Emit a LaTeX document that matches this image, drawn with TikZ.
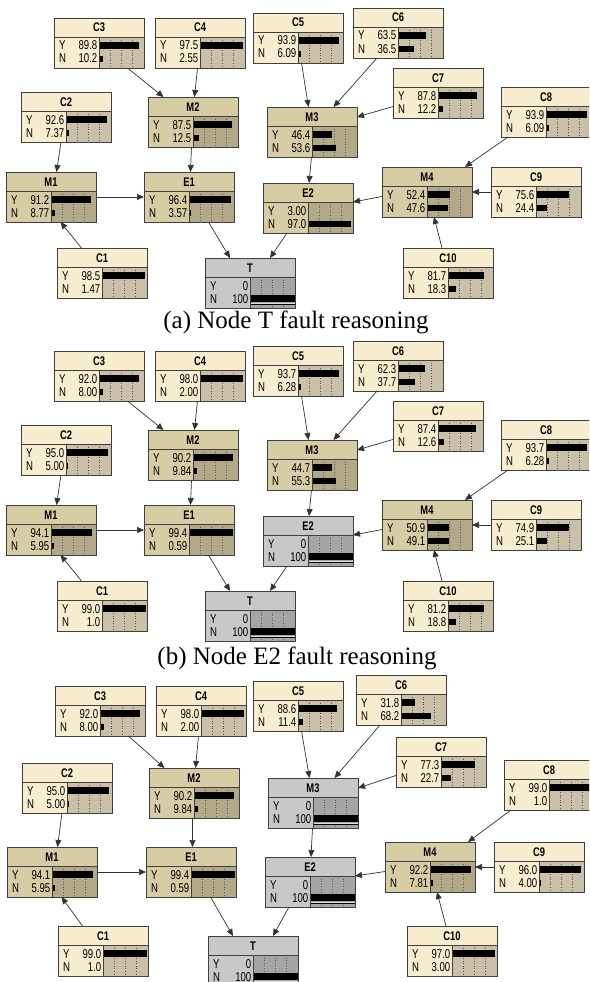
\documentclass[tikz,border=0pt]{standalone}
\usepackage{fontspec}
\setmainfont{Liberation Serif}
\newfontfamily\nfont[FakeStretch=0.75]{Liberation Sans}
\usetikzlibrary{arrows.meta}
\definecolor{ct}{HTML}{F8EDCE}
\definecolor{cb}{HTML}{C9C0A7}
\definecolor{mt}{HTML}{D6CDA5}
\definecolor{mb}{HTML}{B1A988}
\definecolor{gt}{HTML}{C8C8C8}
\definecolor{gb}{HTML}{A5A5A5}
\tikzset{
  nbox/.style={rectangle,minimum width=90pt,minimum height=50pt,inner sep=0pt,outer sep=0pt,anchor=north west},
  gridln/.style={black!65,dotted,line width=0.6pt},
  frame/.style={black!75,line width=0.8pt},
  sepln/.style={black!75,line width=0.7pt},
  ttl/.style={font=\nfont\bfseries\fontsize{12.5}{13}\selectfont,inner sep=0pt,anchor=base},
  lbl/.style={font=\nfont\fontsize{12.8}{13}\selectfont,inner sep=0pt,text=black},
  arr/.style={black!80,line width=0.7pt,-{Triangle[length=7pt,width=6pt]}},
  captext/.style={font=\fontsize{25}{28}\selectfont,inner sep=0pt}
}
% id, x, y, title, yval, nval, colour prefix
\newcommand\bnnode[7]{%
  \node[nbox] (#1) at (#2,#3) {};
  \fill[#7t] (#2,#3) rectangle ({#2+90},{#3+50});
  \fill[#7b] ({#2+45},{#3+19}) rectangle ({#2+90},{#3+50});
  \foreach \k in {11,22,33} \draw[gridln] ({#2+45+\k},{#3+19}) -- ({#2+45+\k},{#3+50});
  \fill ({#2+45},{#3+24.3}) rectangle ({#2+45+0.44*#5},{#3+31});
  \fill ({#2+45},{#3+37.7}) rectangle ({#2+45+0.44*#6},{#3+44.4});
  \draw[sepln] (#2,{#3+19}) -- ({#2+90},{#3+19});
  \draw[sepln] ({#2+45},{#3+19}) -- ({#2+45},{#3+50});
  \draw[frame] (#2,#3) rectangle ({#2+90},{#3+50});
  \node[ttl] at ({#2+45},{#3+14}) {#4};
  \node[lbl,anchor=base west] at ({#2+5},{#3+32}) {Y};
  \node[lbl,anchor=base east] at ({#2+43.5},{#3+32}) {#5};
  \node[lbl,anchor=base west] at ({#2+5},{#3+45}) {N};
  \node[lbl,anchor=base east] at ({#2+43.5},{#3+45}) {#6};
}
% evidence node: id, x, y, title
\newcommand\evnode[4]{%
  \node[nbox] (#1) at (#2,#3) {};
  \fill[gt] (#2,#3) rectangle ({#2+90},{#3+50});
  \fill[gb] ({#2+45},{#3+19}) rectangle ({#2+90},{#3+50});
  \foreach \k in {11,22,33} \draw[gridln] ({#2+45+\k},{#3+19}) -- ({#2+45+\k},{#3+50});
  \fill ({#2+45},{#3+37}) rectangle ({#2+90},{#3+44});
  \draw[gray!25,line width=1pt] ({#2+45},{#3+45.3}) -- ({#2+90},{#3+45.3});
  \draw[black,line width=1.2pt] ({#2+45},{#3+46.8}) -- ({#2+90},{#3+46.8});
  \draw[sepln] (#2,{#3+19}) -- ({#2+90},{#3+19});
  \draw[sepln] ({#2+45},{#3+19}) -- ({#2+45},{#3+50});
  \draw[frame] (#2,#3) rectangle ({#2+90},{#3+50});
  \node[ttl] at ({#2+45},{#3+14}) {#4};
  \node[lbl,anchor=base west] at ({#2+5},{#3+32}) {Y};
  \node[lbl,anchor=base east] at ({#2+43.5},{#3+32}) {0};
  \node[lbl,anchor=base west] at ({#2+5},{#3+45}) {N};
  \node[lbl,anchor=base east] at ({#2+43.5},{#3+45}) {100};
}
\newcommand\drawedges[1]{%
  \draw[arr] ([xshift=28.5pt]#1C3.south) -- ([xshift=-29.5pt]#1M2.north);
  \draw[arr] ([xshift=-2.5pt]#1C4.south) -- ([xshift=1.5pt]#1M2.north);
  \draw[arr] ([xshift=-5pt]#1C2.south) -- ([xshift=5.5pt]#1M1.north);
  \draw[arr] ([xshift=-1.5pt]#1M2.south) -- ([xshift=1.5pt]#1E1.north);
  \draw[arr] (#1M1.east) -- (#1E1.west);
  \draw[arr] ([xshift=-20.5pt]#1C1.north) -- ([xshift=9.5pt]#1M1.south);
  \draw[arr] ([xshift=19.5pt]#1E1.south) -- ([xshift=-20pt]#1T.north);
  \draw[arr] ([xshift=-21pt]#1E2.south) -- ([xshift=20pt]#1T.north);
  \draw[arr] ([xshift=3.5pt]#1C5.south) -- ([xshift=-3.5pt]#1M3.north);
  \draw[arr] ([xshift=-21pt]#1C6.south) -- ([xshift=21.5pt]#1M3.north);
  \draw[arr] ([yshift=-13.5pt]#1C7.west) -- ([yshift=15pt]#1M3.east);
  \draw[arr] ([xshift=-0.5pt]#1M3.south) -- ([xshift=1pt]#1E2.north);
  \draw[arr] ([xshift=-38pt]#1C8.south) -- ([xshift=38pt]#1M4.north);
  \draw[arr] (#1C9.west) -- (#1M4.east);
  \draw[arr] ([yshift=-4.5pt]#1M4.west) -- ([yshift=6pt]#1E2.east);
  \draw[arr] ([xshift=-6pt]#1C10.north) -- ([xshift=7pt]#1M4.south);
}
\begin{document}
\begin{tikzpicture}[x=1pt,y=-1pt]
\useasboundingbox (0,0) rectangle (589,982);
\clip (0,0) rectangle (589,982);
\fill[white] (0,0) rectangle (589,982);
% ---------------- panel (a)
\bnnode{aC3}{54}{18}{C3}{89.8}{10.2}{c}
\bnnode{aC4}{155}{18}{C4}{97.5}{2.55}{c}
\bnnode{aC5}{253}{13}{C5}{93.9}{6.09}{c}
\bnnode{aC6}{353}{8}{C6}{63.5}{36.5}{c}
\bnnode{aC7}{393}{68}{C7}{87.8}{12.2}{c}
\bnnode{aC8}{501}{87}{C8}{93.9}{6.09}{c}
\bnnode{aC2}{21}{92}{C2}{92.6}{7.37}{c}
\bnnode{aM2}{148}{97}{M2}{87.5}{12.5}{m}
\bnnode{aM3}{267}{107}{M3}{46.4}{53.6}{m}
\bnnode{aM1}{6}{172}{M1}{91.2}{8.77}{m}
\bnnode{aE1}{144}{172}{E1}{96.4}{3.57}{m}
\bnnode{aE2}{263}{183}{E2}{3.00}{97.0}{m}
\bnnode{aM4}{382}{167}{M4}{52.4}{47.6}{m}
\bnnode{aC9}{491}{167}{C9}{75.6}{24.4}{c}
\bnnode{aC1}{57}{248}{C1}{98.5}{1.47}{c}
\bnnode{aC10}{403}{248}{C10}{81.7}{18.3}{c}
\evnode{aT}{205}{258}{T}
\drawedges{a}
\node[captext] (capa) at (296,322) {(a) Node T fault reasoning};
% ---------------- panel (b)
\bnnode{bC3}{54}{351}{C3}{92.0}{8.00}{c}
\bnnode{bC4}{155}{351}{C4}{98.0}{2.00}{c}
\bnnode{bC5}{253}{346}{C5}{93.7}{6.28}{c}
\bnnode{bC6}{353}{341}{C6}{62.3}{37.7}{c}
\bnnode{bC7}{393}{401}{C7}{87.4}{12.6}{c}
\bnnode{bC8}{501}{420}{C8}{93.7}{6.28}{c}
\bnnode{bC2}{21}{425}{C2}{95.0}{5.00}{c}
\bnnode{bM2}{148}{430}{M2}{90.2}{9.84}{m}
\bnnode{bM3}{267}{440}{M3}{44.7}{55.3}{m}
\bnnode{bM1}{6}{505}{M1}{94.1}{5.95}{m}
\bnnode{bE1}{144}{505}{E1}{99.4}{0.59}{m}
\evnode{bE2}{263}{516}{E2}
\bnnode{bM4}{382}{500}{M4}{50.9}{49.1}{m}
\bnnode{bC9}{491}{500}{C9}{74.9}{25.1}{c}
\bnnode{bC1}{57}{581}{C1}{99.0}{1.0}{c}
\bnnode{bC10}{403}{581}{C10}{81.2}{18.8}{c}
\evnode{bT}{205}{591}{T}
\drawedges{b}
\node[captext] (capb) at (297,658) {(b) Node E2 fault reasoning};
% ---------------- panel (c)
\bnnode{cC3}{55}{686}{C3}{92.0}{8.00}{c}
\bnnode{cC4}{156}{686}{C4}{98.0}{2.00}{c}
\bnnode{cC5}{253}{681}{C5}{88.6}{11.4}{c}
\bnnode{cC6}{356}{675}{C6}{31.8}{68.2}{c}
\bnnode{cC7}{396}{737}{C7}{77.3}{22.7}{c}
\bnnode{cC8}{504}{760}{C8}{99.0}{1.0}{c}
\evnode{cM3}{268}{778}{M3}
\bnnode{cC2}{22}{763}{C2}{95.0}{5.00}{c}
\bnnode{cM2}{149}{768}{M2}{90.2}{9.84}{m}
\bnnode{cM1}{7}{847}{M1}{94.1}{5.95}{m}
\bnnode{cE1}{146}{847}{E1}{99.4}{0.59}{m}
\evnode{cE2}{265}{857}{E2}
\bnnode{cM4}{385}{842}{M4}{92.2}{7.81}{m}
\bnnode{cC9}{494}{842}{C9}{96.0}{4.00}{c}
\bnnode{cC1}{58}{926}{C1}{99.0}{1.0}{c}
\bnnode{cC10}{407}{926}{C10}{97.0}{3.00}{c}
\evnode{cT}{208}{936}{T}
\drawedges{c}
\end{tikzpicture}
\end{document}
